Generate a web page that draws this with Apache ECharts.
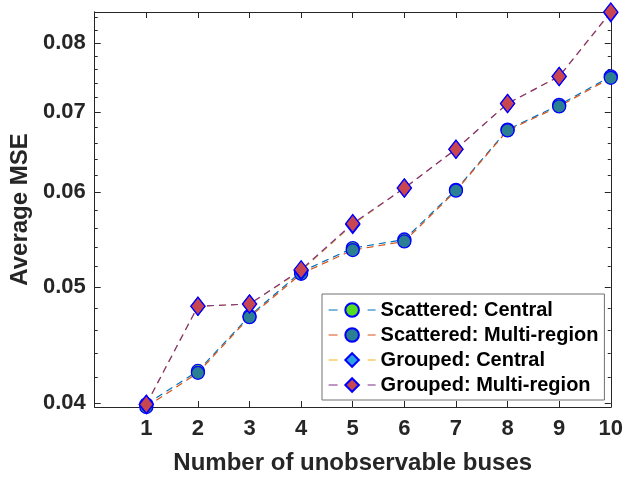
<!DOCTYPE html>
<html>
<head>
<meta charset="utf-8">
<script src="https://cdn.jsdelivr.net/npm/echarts@6/dist/echarts.min.js"></script>
<style>
  html, body { margin: 0; padding: 0; background: #ffffff; }
  #chart { width: 626px; height: 480px; }
</style>
</head>
<body>
<div id="chart"></div>
<script>
// Number of unobservable buses (x) and average MSE per scenario (y, log scale)
const busCounts = [1, 2, 3, 4, 5, 6, 7, 8, 9, 10];
const scatteredCentral = [0.0399, 0.04255, 0.0473, 0.0515, 0.0539, 0.0548, 0.0603, 0.0677, 0.0710, 0.0750];
const scatteredMulti   = [0.0397, 0.0424, 0.0472, 0.0513, 0.0537, 0.0546, 0.0602, 0.0676, 0.0708, 0.0748];
const groupedCentral   = [0.0399, 0.0482, 0.0484, 0.0516, 0.0564, 0.0605, 0.0652, 0.0712, 0.0750, 0.0848];
const groupedMulti     = [0.0399, 0.0482, 0.0484, 0.0517, 0.0565, 0.0605, 0.0652, 0.0712, 0.0750, 0.0849];

const seriesNames = ['Scattered: Central', 'Scattered: Multi-region', 'Grouped: Central', 'Grouped: Multi-region'];

// Tick positions
const yMajorTicks = [0.04, 0.05, 0.06, 0.07, 0.08];
const yMinorTicks = [0.042, 0.044, 0.046, 0.048, 0.052, 0.054, 0.056, 0.058,
                     0.062, 0.064, 0.066, 0.068, 0.072, 0.074, 0.076, 0.078, 0.082, 0.084];
const yRange = [0.0397, 0.0849];
const xRange = [0, 10];

const ink = '#262626';
const fontFamily = '"Liberation Sans", Arial, Helvetica, sans-serif';

function pairs(values) {
  return busCounts.map((x, i) => [x, values[i]]);
}

function xAxisDef(position, showLabels) {
  return {
    type: 'value', position, min: xRange[0], max: xRange[1],
    axisLine: { show: true, onZero: false, lineStyle: { color: ink, width: 1 } },
    axisTick: { show: true, inside: true, length: 6, customValues: busCounts, lineStyle: { color: ink, width: 1 } },
    axisLabel: showLabels
      ? { show: true, customValues: busCounts, margin: 11, color: ink, fontSize: 22, fontWeight: 'bold', fontFamily }
      : { show: false },
    splitLine: { show: false },
    name: showLabels ? 'Number of unobservable buses' : '',
    nameLocation: 'middle', nameGap: 44,
    nameTextStyle: { color: ink, fontSize: 24, fontWeight: 'bold', fontFamily }
  };
}

function yAxisDef(position, ticks, len, showLabels) {
  return {
    type: 'log', logBase: 10, position, min: yRange[0], max: yRange[1],
    axisLine: { show: true, onZero: false, lineStyle: { color: ink, width: 1 } },
    axisTick: { show: true, inside: true, length: len, customValues: ticks, lineStyle: { color: ink, width: 1 } },
    axisLabel: showLabels
      ? { show: true, customValues: yMajorTicks, margin: 9, color: ink, fontSize: 22, fontWeight: 'bold', fontFamily,
          formatter: v => Number(v).toFixed(2) }
      : { show: false },
    minorTick: { show: false },
    splitLine: { show: false },
    name: showLabels ? 'Average MSE' : '',
    nameLocation: 'middle', nameGap: 50, nameRotate: 90,
    nameTextStyle: { color: ink, fontSize: 24, fontWeight: 'bold', fontFamily }
  };
}

function lineSeries(name, values, lineColor, symbol, size, fill) {
  return {
    name, type: 'line', data: pairs(values),
    xAxisIndex: 0, yAxisIndex: 0,
    symbol, symbolSize: size, showSymbol: true, clip: false,
    lineStyle: { color: lineColor, width: 1.2, type: [7, 5] },
    itemStyle: { color: fill, borderColor: '#0000ff', borderWidth: 1.3 },
    emphasis: { disabled: true }
  };
}

const chart = echarts.init(document.getElementById('chart'), null, { renderer: 'canvas' });
chart.setOption({
  animation: false,
  backgroundColor: '#ffffff',
  grid: { left: 93, right: 12, top: 12, bottom: 71, containLabel: false },
  xAxis: [xAxisDef('bottom', true), xAxisDef('top', false)],
  yAxis: [
    yAxisDef('left', yMajorTicks, 6, true),
    yAxisDef('left', yMinorTicks, 3, false),
    yAxisDef('right', yMajorTicks, 6, false),
    yAxisDef('right', yMinorTicks, 3, false)
  ],
  legend: {
    orient: 'vertical', left: 322, top: 294,
    padding: [6, 6, 5, 6], itemGap: 5, itemWidth: 47, itemHeight: 17,
    backgroundColor: '#ffffff', borderColor: '#707070', borderWidth: 1, borderRadius: 0,
    lineStyle: { type: [9, 30], width: 1.2 },
    textStyle: { color: '#000000', fontSize: 20, fontWeight: 'bold', fontFamily },
    data: seriesNames
  },
  series: [
    lineSeries(seriesNames[0], scatteredCentral, '#0072BD', 'circle', 13, '#55dd22'),
    lineSeries(seriesNames[1], scatteredMulti, '#D95319', 'circle', 13, '#2a7f93'),
    lineSeries(seriesNames[2], groupedCentral, '#EDB120', 'diamond', [14, 18], '#2ea0e0'),
    lineSeries(seriesNames[3], groupedMulti, '#7E2F8E', 'diamond', [14, 18], '#c8464f')
  ]
});
</script>
</body>
</html>
